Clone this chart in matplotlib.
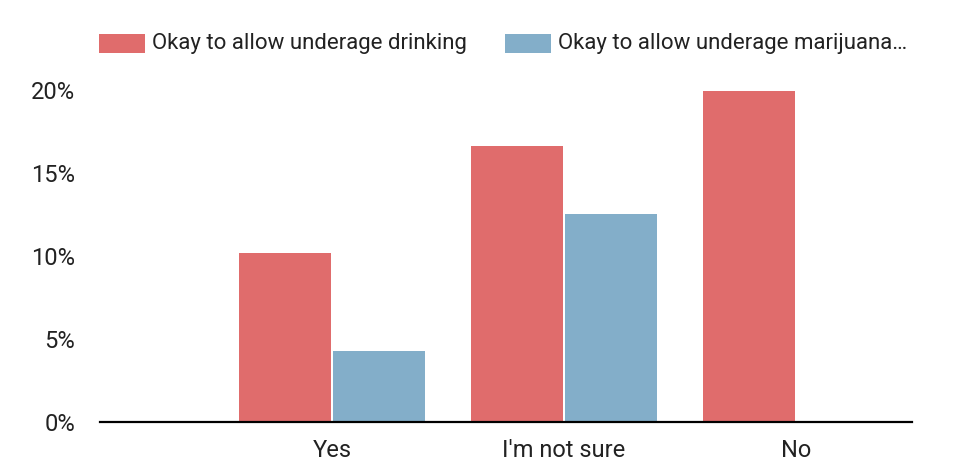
import matplotlib.pyplot as plt
import numpy as np
from matplotlib.patches import Rectangle
from matplotlib.ticker import FuncFormatter

plt.rcParams["font.family"] = ["Roboto", "DejaVu Sans"]

categories = ["Yes", "I'm not sure", "No"]
drinking = [10.2, 16.6, 19.95]
marijuana = [4.3, 12.5, 0.0]
series_names = ["Okay to allow underage drinking", "Okay to allow underage marijuana…"]
colors = ["#E06C6C", "#83AEC9"]
yticks = [0, 5, 10, 15, 20]

W, H = 977, 465
fig = plt.figure(figsize=(W / 100, H / 100), dpi=100, facecolor="white")
ax = fig.add_axes([100 / W, 1 - 422 / H, (912 - 100) / W, (422 - 90) / H])

x = np.arange(1, len(categories) + 1)
width = 0.395
ax.bar(x - 0.203, drinking, width, color=colors[0], linewidth=0)
ax.bar(x + 0.203, marijuana, width, color=colors[1], linewidth=0)

ax.set_xlim(0, 3.5)
ax.set_ylim(0, 20)
ax.set_xticks(x)
ax.set_xticklabels(categories, fontsize=17, color="#222222")
ax.set_yticks(yticks)
ax.yaxis.set_major_formatter(FuncFormatter(lambda v, _: f"{v:.0f}%"))
ax.tick_params(axis="y", length=0, pad=18, labelsize=17, labelcolor="#222222")
ax.tick_params(axis="x", length=0, pad=12)
for s in ["top", "right", "left"]:
    ax.spines[s].set_visible(False)
ax.spines["bottom"].set_linewidth(1.6)
ax.spines["bottom"].set_color("black")

# legend at top
for px, name, c in zip([99, 505], series_names, colors):
    fig.add_artist(Rectangle((px / W, 1 - 53 / H), 46 / W, 19 / H,
                             transform=fig.transFigure, color=c, linewidth=0))
    fig.text((px + 53) / W, 1 - 44 / H, name, fontsize=16, va="center",
             ha="left", color="#222222")

fig.savefig("out.png", dpi=100)
